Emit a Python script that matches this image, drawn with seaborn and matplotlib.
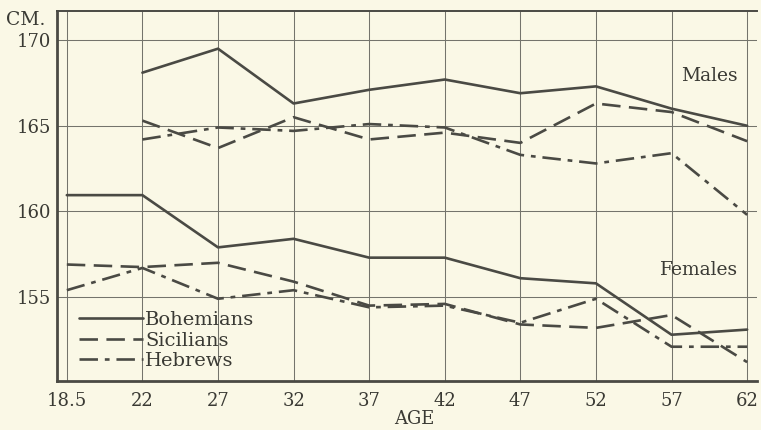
import numpy as np
import pandas as pd
import matplotlib
matplotlib.use("Agg")
import matplotlib.pyplot as plt
import seaborn as sns

# ---- data ----
age_labels = ["18.5", "22", "27", "32", "37", "42", "47", "52", "57", "62"]

males_bohemians = [np.nan, 168.1, 169.5, 166.3, 167.1, 167.7, 166.9, 167.3, 166.0, 165.0]
males_sicilians = [np.nan, 165.3, 163.7, 165.5, 164.2, 164.6, 164.0, 166.3, 165.8, 164.1]
males_hebrews   = [np.nan, 164.2, 164.9, 164.7, 165.1, 164.9, 163.3, 162.8, 163.4, 159.8]

females_bohemians = [160.95, 160.95, 157.9, 158.4, 157.3, 157.3, 156.1, 155.8, 152.8, 153.1]
females_sicilians = [156.9, 156.75, 157.0, 155.9, 154.5, 154.6, 153.4, 153.2, 153.95, 151.2]
females_hebrews   = [155.4, 156.7, 154.9, 155.4, 154.4, 154.5, 153.5, 154.9, 152.1, 152.1]

y_ticks = [155, 160, 165, 170]

series = {
    ("Males", "Bohemians"): males_bohemians,
    ("Males", "Sicilians"): males_sicilians,
    ("Males", "Hebrews"): males_hebrews,
    ("Females", "Bohemians"): females_bohemians,
    ("Females", "Sicilians"): females_sicilians,
    ("Females", "Hebrews"): females_hebrews,
}

rows = []
for (sex, grp), vals in series.items():
    for i, v in enumerate(vals):
        rows.append({"pos": i, "height": v, "group": grp, "sex": sex})
df = pd.DataFrame(rows)

# ---- style ----
sns.set_theme(style="white")
plt.rcParams["font.family"] = ["DejaVu Serif"]
bg = "#faf8e6"
ink = "#4a4a44"
txt = "#3a3a34"

fig = plt.figure(figsize=(7.61, 4.30), dpi=100, facecolor=bg)
ax = fig.add_axes([0.0749, 0.114, 0.9198, 0.8604])
ax.set_facecolor(bg)

dash_map = {
    "Bohemians": "",
    "Sicilians": (7, 3.2),
    "Hebrews": (7, 2.6, 1.8, 2.6),
}

for sex in ["Males", "Females"]:
    sub = df[df["sex"] == sex].dropna()
    sns.lineplot(data=sub, x="pos", y="height", style="group",
                 style_order=["Bohemians", "Sicilians", "Hebrews"],
                 dashes=dash_map, color=ink, linewidth=1.9,
                 legend=(sex == "Males"), ax=ax, estimator=None, sort=False)

ax.set_xlim(-0.13, 9.13)
ax.set_ylim(150.1, 171.7)
ax.set_xticks(range(len(age_labels)))
ax.set_xticklabels(age_labels)
ax.set_yticks(y_ticks)
ax.tick_params(axis="both", length=0, labelsize=13, colors=txt)
ax.tick_params(axis="x", pad=8)
ax.tick_params(axis="y", pad=4)

ax.grid(True, color="#74746c", linewidth=0.75)
ax.set_axisbelow(True)

for s in ["left", "bottom"]:
    ax.spines[s].set_color(ink)
    ax.spines[s].set_linewidth(2.0)
ax.spines["top"].set_color(ink)
ax.spines["top"].set_linewidth(1.4)
ax.spines["right"].set_visible(False)

ax.set_xlabel("AGE", fontsize=13, color=txt)
ax.xaxis.set_label_coords(0.5105, -0.078)
ax.set_ylabel("")

ax.text(-0.045, 0.975, "CM.", transform=ax.transAxes, ha="center", va="center",
        fontsize=13.5, color=txt)
ax.text(8.88, 167.9, "Males", ha="right", va="center", fontsize=13.5, color=txt)
ax.text(8.88, 156.6, "Females", ha="right", va="center", fontsize=13.5, color=txt)

leg = ax.legend(loc="lower left", bbox_to_anchor=(0.016, 0.0), frameon=False,
                handlelength=3.3, handletextpad=0.12, labelspacing=0.14,
                fontsize=14, borderaxespad=0.15)
for t in leg.get_texts():
    t.set_color(txt)
for h in leg.get_lines():
    h.set_color(ink)
    h.set_linewidth(1.9)

fig.savefig("out.png", dpi=100, facecolor=bg)
